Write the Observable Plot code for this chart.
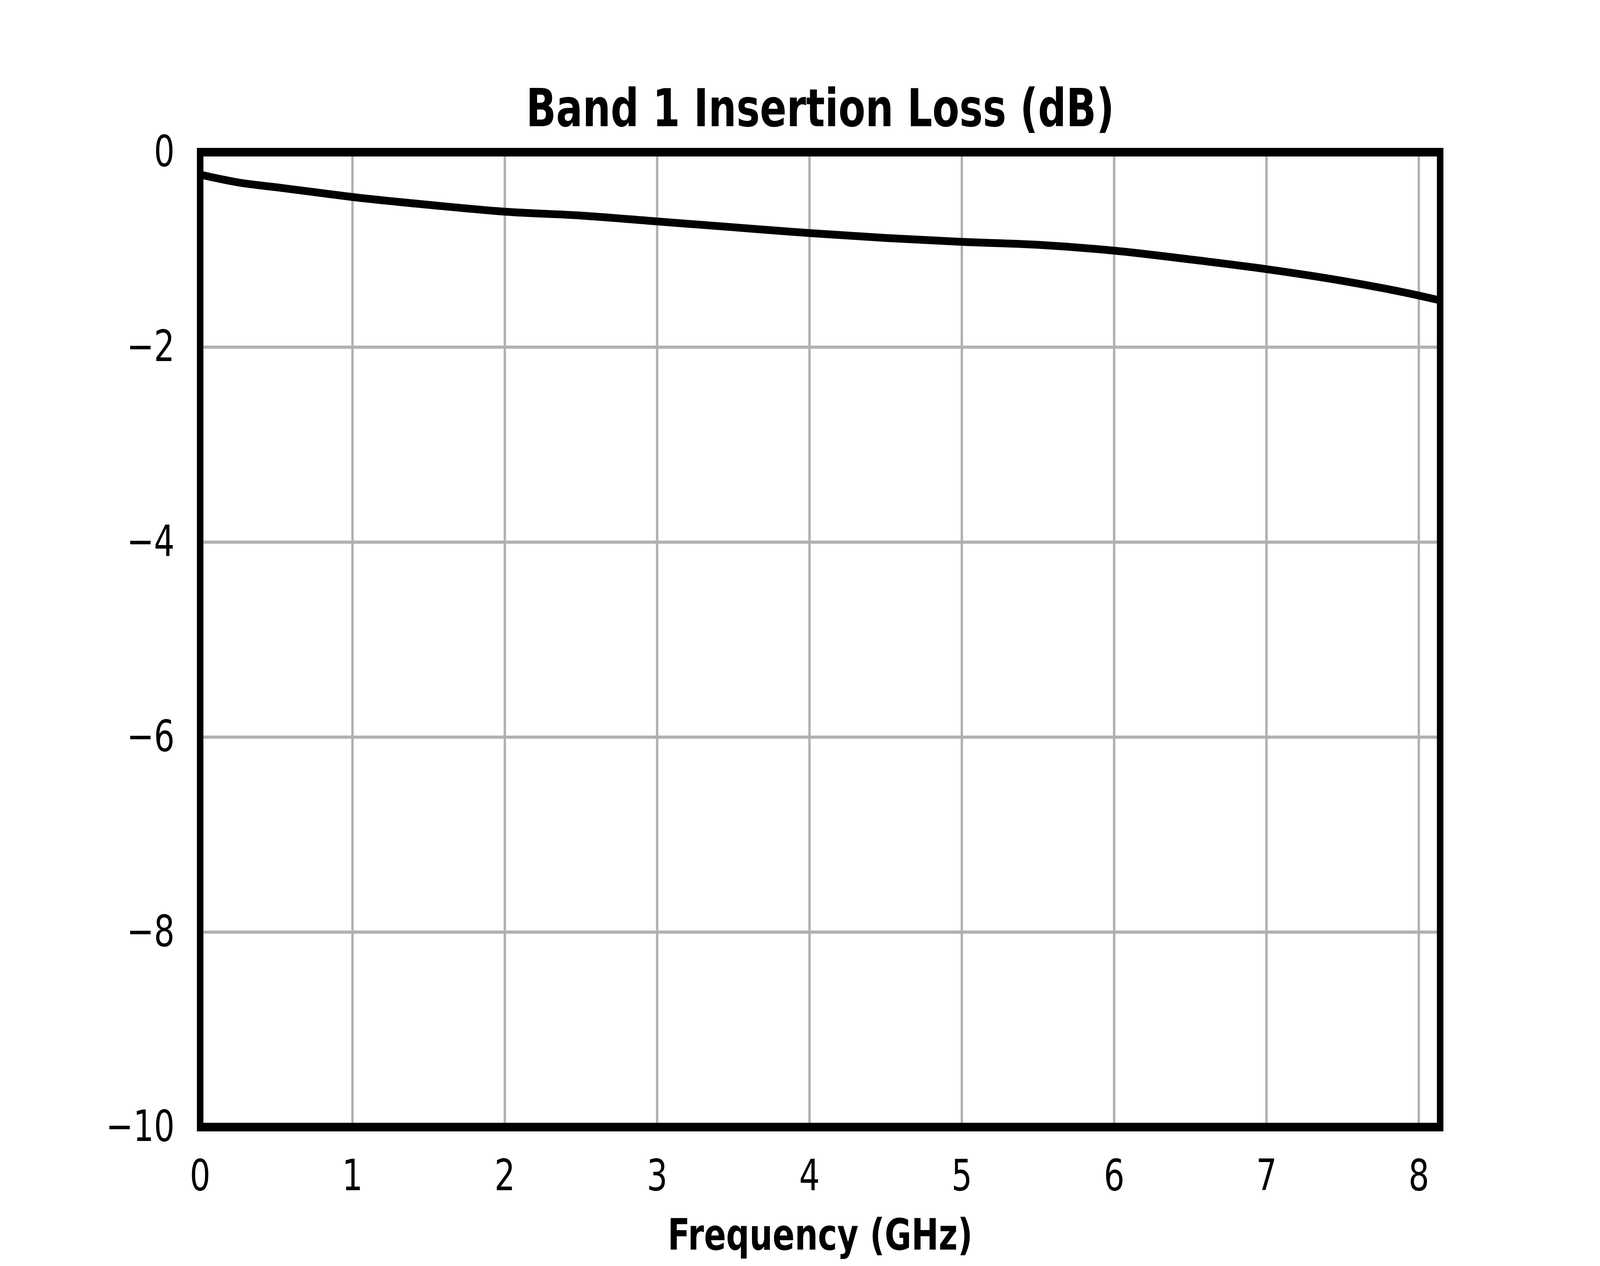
<!DOCTYPE html>
<html>
<head>
<meta charset="utf-8">
<script src="https://cdn.jsdelivr.net/npm/d3@7"></script>
<script src="https://cdn.jsdelivr.net/npm/@observablehq/plot@0.6"></script>
<style>
  html, body { margin: 0; padding: 0; background: #ffffff; overflow: hidden; width: 100vw; height: 100vh; }
  #chart { width: 100vw; height: 100vh; }
  #chart svg { display: block; width: 100vw; height: 100vh; max-width: none; }
</style>
</head>
<body>
<div id="chart"></div>
<script>
// Data
const frequencyGHz = [0, 0.25, 0.5, 0.75, 1, 1.5, 2, 2.5, 3, 3.5, 4, 4.5, 5, 5.5, 6, 6.5, 7, 7.5, 8, 8.14];
const insertionLossDb = [-0.23, -0.31, -0.36, -0.41, -0.46, -0.54, -0.61, -0.65, -0.71, -0.77, -0.83, -0.88, -0.92, -0.95, -1.01, -1.10, -1.20, -1.32, -1.47, -1.52];
const xTicks = [0, 1, 2, 3, 4, 5, 6, 7, 8];
const yTicks = [0, -2, -4, -6, -8, -10];
const titleText = "Band 1 Insertion Loss (dB)";
const xLabelText = "Frequency (GHz)";

const rows = frequencyGHz.map((f, i) => ({f, db: insertionLossDb[i]}));
const fmt = d => d < 0 ? "\u2212" + Math.abs(d) : String(d);

const chart = Plot.plot({
  width: 5400,
  height: 3240,
  marginLeft: 675,
  marginRight: 540,
  marginTop: 389,
  marginBottom: 356,
  style: {fontFamily: "DejaVu Sans", fontSize: "110px", background: "#ffffff", color: "#000000"},
  x: {domain: [0, 8.14], ticks: xTicks, label: null},
  y: {domain: [-10, 0], ticks: yTicks, label: null},
  marks: [
    Plot.gridX(xTicks, {stroke: "#b0b0b0", strokeOpacity: 1, strokeWidth: 8}),
    Plot.gridY(yTicks, {stroke: "#b0b0b0", strokeOpacity: 1, strokeWidth: 8}),
    Plot.line(rows, {x: "f", y: "db", stroke: "#000000", strokeWidth: 20, curve: "monotone-x", clip: true}),
    Plot.frame({stroke: "#000000", strokeWidth: 22}),
    Plot.axisX(xTicks, {tickSize: 0, tickPadding: 83, tickFormat: fmt, fontSize: 110, label: null}),
    Plot.axisY(yTicks, {tickSize: 0, tickPadding: 86, tickFormat: fmt, fontSize: 110, label: null}),
    Plot.text([titleText], {frameAnchor: "top", lineAnchor: "bottom", dy: -67, text: d => d, fontSize: 133, fontWeight: "bold", fill: "#000000"}),
    Plot.text([xLabelText], {frameAnchor: "bottom", lineAnchor: "bottom", dy: 313, text: d => d, fontSize: 110, fontWeight: "bold", fill: "#000000"})
  ]
});
// The browser viewport may be narrower than 5400 px; map the 5400x3240 design onto the whole viewport.
chart.setAttribute("viewBox", "0 0 5400 3240");
chart.setAttribute("preserveAspectRatio", "none");
document.getElementById("chart").appendChild(chart);
</script>
</body>
</html>
